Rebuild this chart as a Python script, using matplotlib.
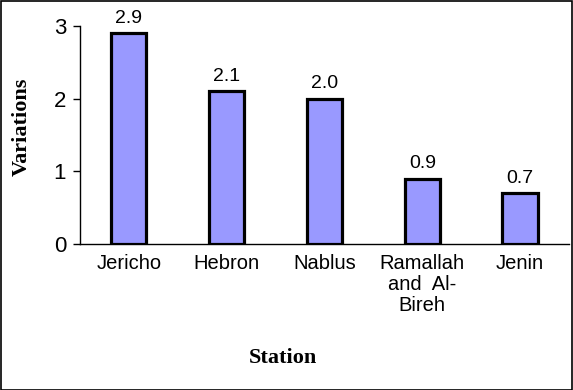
import matplotlib.pyplot as plt
from matplotlib.patches import Rectangle

stations = ["Jericho", "Hebron", "Nablus", "Ramallah\nand  Al-\nBireh", "Jenin"]
variations = [2.9, 2.1, 2.0, 0.9, 0.7]
yticks = [0, 1, 2, 3]

fig = plt.figure(figsize=(5.73, 3.9), dpi=100)
ax = fig.add_axes([0.1396, 0.3744, 0.8534, 0.5589])

x = range(len(stations))
bars = ax.bar(x, variations, width=0.36, color="#9999ff",
              edgecolor="black", linewidth=2.3, zorder=3)

for b, v in zip(bars, variations):
    ax.text(b.get_x() + b.get_width() / 2, v + 0.09, f"{v:.1f}",
            ha="center", va="bottom", fontsize=14, family="Liberation Sans")

ax.set_xlim(-0.5, 4.5)
ax.set_ylim(0, 3)
ax.set_yticks(yticks)
ax.set_xticks(list(x))
ax.set_xticklabels(stations, family="Liberation Sans", fontsize=14.5,
                   linespacing=1.15)
ax.tick_params(axis="x", length=0, pad=7)
ax.tick_params(axis="y", length=5, width=1, direction="out", pad=5,
               labelsize=16)
for lab in ax.get_yticklabels():
    lab.set_family("Liberation Sans")

for s in ["top", "right"]:
    ax.spines[s].set_visible(False)
ax.spines["left"].set_linewidth(1)
ax.spines["bottom"].set_linewidth(1)

fig.text(0.038, 0.676, "Variations", rotation=90, ha="center", va="center",
         family="Liberation Serif", fontweight="bold", fontsize=16)
fig.text(0.494, 0.082, "Station", ha="center", va="center",
         family="Liberation Serif", fontweight="bold", fontsize=16)

fig.patches.append(Rectangle((0.001, 0.001), 0.997, 0.996,
                             transform=fig.transFigure, fill=False,
                             edgecolor="black", linewidth=1.2))

fig.savefig("out.png", dpi=100)
